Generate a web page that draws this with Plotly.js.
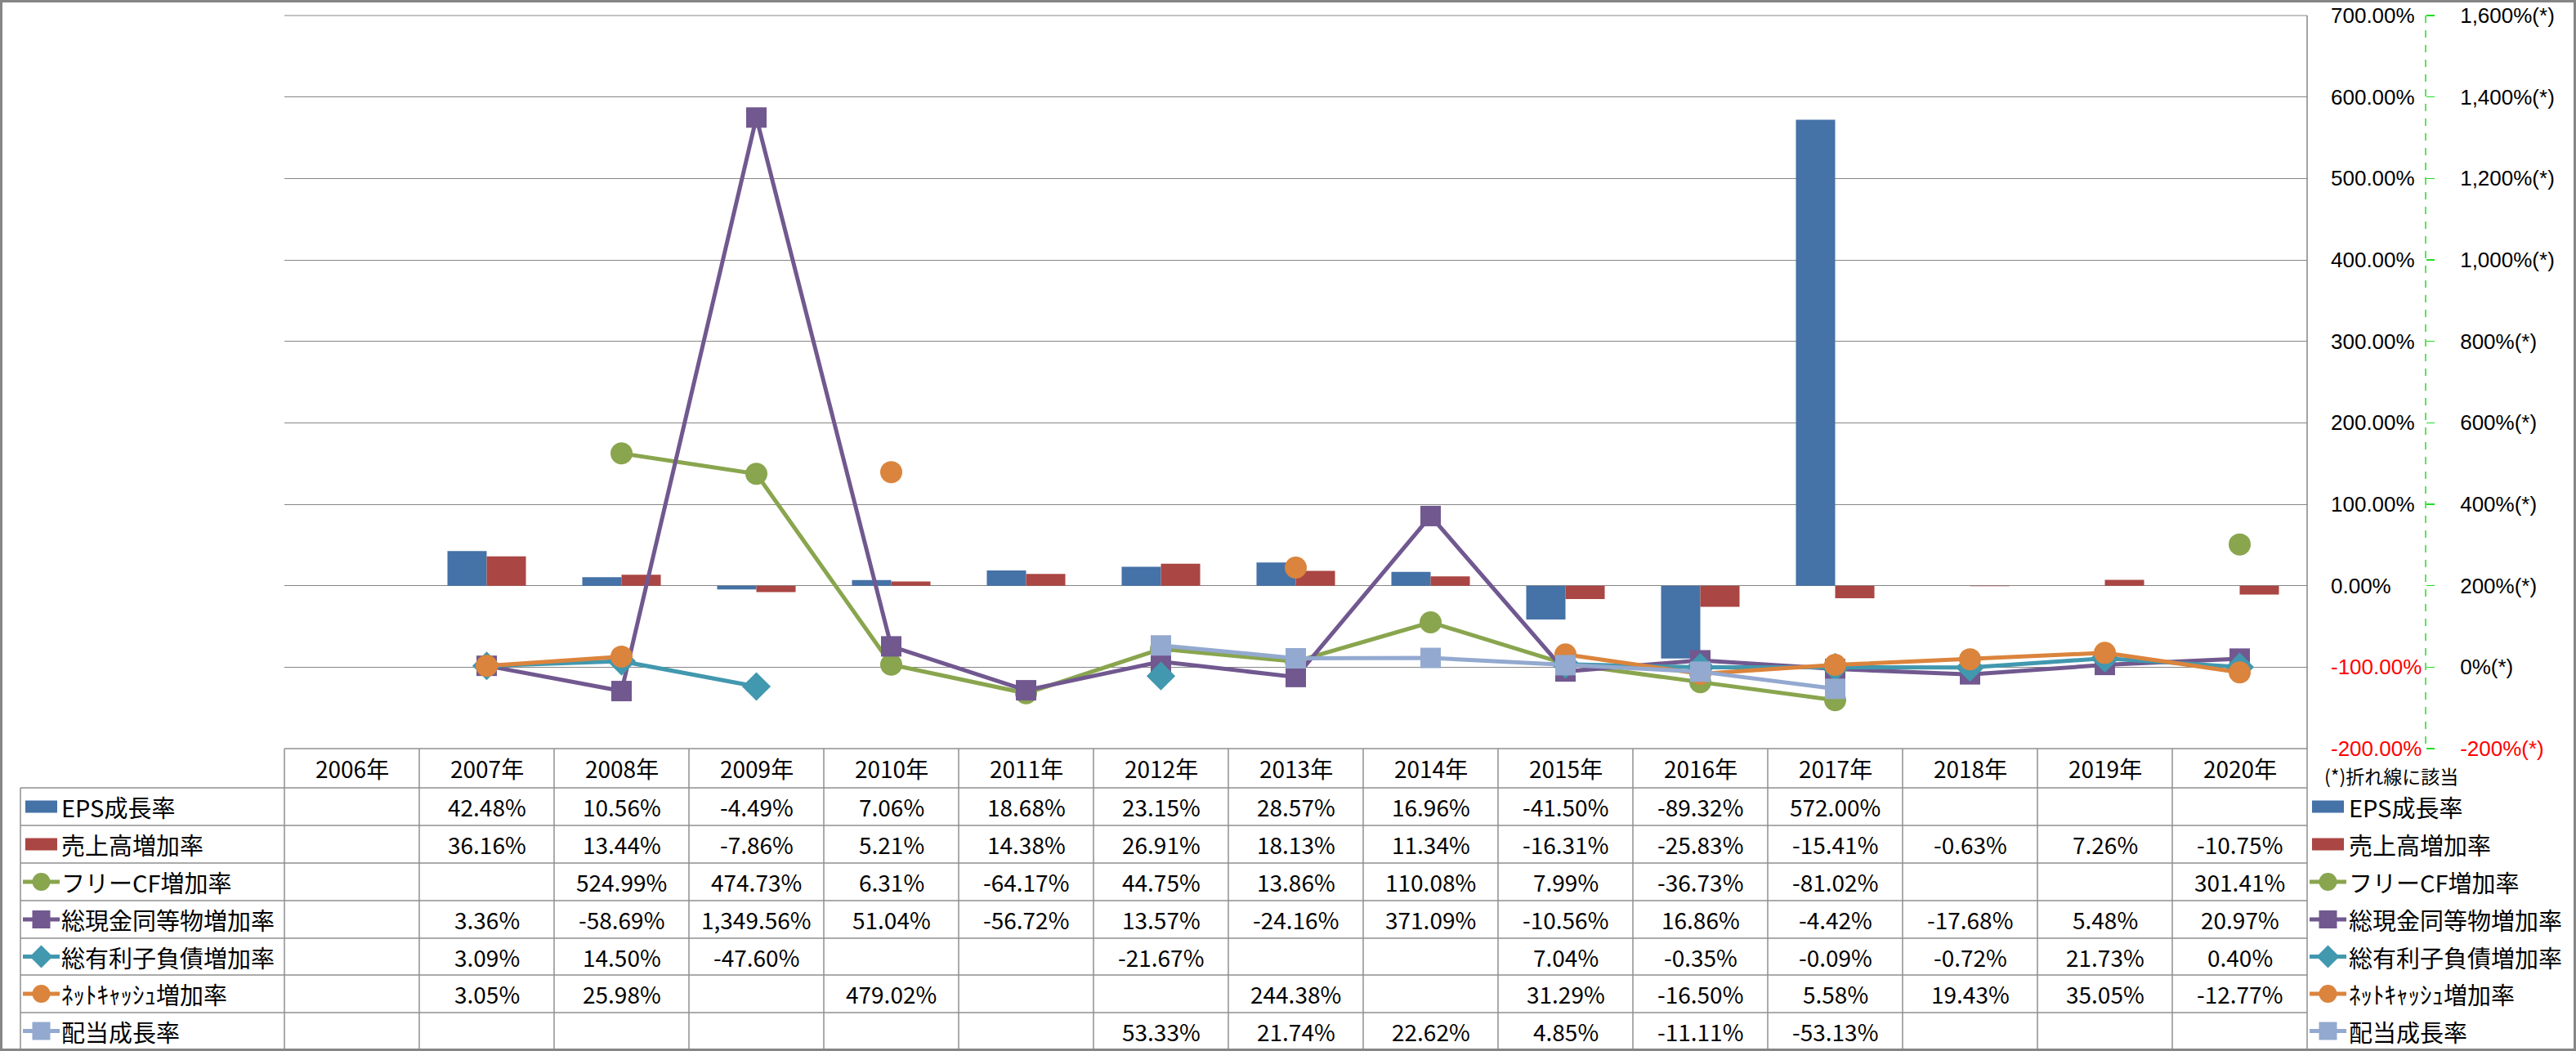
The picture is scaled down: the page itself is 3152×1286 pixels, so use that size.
<!DOCTYPE html>
<html><head><meta charset="utf-8">
<script src="https://cdn.plot.ly/plotly-3.0.1.min.js"></script>
<style>html,body{margin:0;padding:0;background:#fff}</style>
</head><body><div id="chart" style="width:3152px;height:1286px"></div>
<script>
// ---------- data ----------
const years = ['2006年','2007年','2008年','2009年','2010年','2011年','2012年','2013年','2014年','2015年','2016年','2017年','2018年','2019年','2020年'];
const epsGrowth      = [null, 42.48, 10.56, -4.49, 7.06, 18.68, 23.15, 28.57, 16.96, -41.50, -89.32, 572.00, null, null, null];
const salesGrowth    = [null, 36.16, 13.44, -7.86, 5.21, 14.38, 26.91, 18.13, 11.34, -16.31, -25.83, -15.41, -0.63, 7.26, -10.75];
const freeCFGrowth   = [null, null, 524.99, 474.73, 6.31, -64.17, 44.75, 13.86, 110.08, 7.99, -36.73, -81.02, null, null, 301.41];
const cashGrowth     = [null, 3.36, -58.69, 1349.56, 51.04, -56.72, 13.57, -24.16, 371.09, -10.56, 16.86, -4.42, -17.68, 5.48, 20.97];
const debtGrowth     = [null, 3.09, 14.50, -47.60, null, null, -21.67, null, null, 7.04, -0.35, -0.09, -0.72, 21.73, 0.40];
const netCashGrowth  = [null, 3.05, 25.98, null, 479.02, null, null, 244.38, null, 31.29, -16.50, 5.58, 19.43, 35.05, -12.77];
const dividendGrowth = [null, null, null, null, null, null, 53.33, 21.74, 22.62, 4.85, -11.11, -53.13, null, null, null];

const seriesNames = ['EPS成長率','売上高増加率','フリーCF増加率','総現金同等物増加率','総有利子負債増加率','ﾈｯﾄｷｬｯｼｭ増加率','配当成長率'];

const y1TickVals = [-200, -100, 0, 100, 200, 300, 400, 500, 600, 700];
const y1TickText = ['-200.00%','-100.00%','0.00%','100.00%','200.00%','300.00%','400.00%','500.00%','600.00%','700.00%'];
const y2TickVals = [-200, 0, 200, 400, 600, 800, 1000, 1200, 1400, 1600];
const y2TickText = ['-200%(*)','0%(*)','200%(*)','400%(*)','600%(*)','800%(*)','1,000%(*)','1,200%(*)','1,400%(*)','1,600%(*)'];
const noteText = '(*)折れ線に該当';

// ---------- styling ----------
const W = 3152, H = 1286;
const X = p => p / W;
const Y = p => 1 - p / H;
const FONT = 'Noto Sans CJK JP, Noto Sans, sans-serif';
const TICK_FONT = 'Liberation Sans, Arial, sans-serif';
const PLOT_L = 348, PLOT_R = 2823, PLOT_T = 19, PLOT_B = 916;
const ROW_LINES = [916, 964, 1010, 1056, 1102, 1148, 1193, 1239, 1284];
const LABEL_L = 25;
const GRID = '#868686', TABLE_LINE = '#8F8F8F';
const CELL_SIZE = 28, LABEL_SIZE = 29;

const styles = [
  {kind:'bar', color:'#4572A7'},
  {kind:'bar', color:'#AA4643'},
  {kind:'line', color:'#89A54E', symbol:'circle', size:27},
  {kind:'line', color:'#71588F', symbol:'square', size:25},
  {kind:'line', color:'#4198AF', symbol:'diamond', size:27},
  {kind:'line', color:'#DB843D', symbol:'circle', size:27},
  {kind:'line', color:'#93A9CF', symbol:'square', size:25}
];
const seriesData = [epsGrowth, salesGrowth, freeCFGrowth, cashGrowth, debtGrowth, netCashGrowth, dividendGrowth];

// ---------- traces ----------
const traces = seriesData.map((vals, i) => {
  const s = styles[i];
  if (s.kind === 'bar') {
    return {type:'bar', name:seriesNames[i], x:years, y:vals, xaxis:'x', yaxis:'y',
            marker:{color:s.color, line:{width:0}}, hoverinfo:'skip'};
  }
  return {type:'scatter', mode:'lines+markers', name:seriesNames[i], x:years, y:vals,
          xaxis:'x', yaxis:'y2', connectgaps:false, cliponaxis:false,
          line:{color:s.color, width:5},
          marker:{symbol:s.symbol, size:s.size, color:s.color, line:{width:0}},
          hoverinfo:'skip'};
});

// ---------- tick text (negatives in red) ----------
const red = t => t.startsWith('-') ? '<span style="color:#FF0000">' + t + '</span>' : t;

// ---------- shapes ----------
const shapes = [];
const hline = (y, x0, x1, color, w) => shapes.push({type:'line', xref:'paper', yref:'paper', x0:X(x0), x1:X(x1), y0:Y(y), y1:Y(y), line:{color:color, width:w}});
const vline = (x, y0, y1, color, w, dash) => shapes.push({type:'line', xref:'paper', yref:'paper', x0:X(x), x1:X(x), y0:Y(y0), y1:Y(y1), line:{color:color, width:w, dash:dash || 'solid'}});

hline(PLOT_T, PLOT_L, PLOT_R, GRID, 1);
hline(ROW_LINES[0], PLOT_L, PLOT_R, TABLE_LINE, 1.5);
for (let k = 1; k < ROW_LINES.length; k++) hline(ROW_LINES[k], LABEL_L, PLOT_R, TABLE_LINE, 1.5);
vline(LABEL_L, ROW_LINES[1], ROW_LINES[ROW_LINES.length - 1], TABLE_LINE, 1.5);
const colW = (PLOT_R - PLOT_L) / years.length;
for (let c = 0; c <= years.length; c++) vline(PLOT_L + c * colW, ROW_LINES[0], ROW_LINES[ROW_LINES.length - 1], TABLE_LINE, 1.5);
vline(PLOT_R, PLOT_T, PLOT_B, GRID, 1.5);
vline(2968, PLOT_T, PLOT_B, '#22DD22', 1.5, 'dash');
shapes.push({type:'rect', xref:'paper', yref:'paper', x0:X(1.5), x1:X(W - 1.5), y0:Y(1.5), y1:Y(H - 1.5), line:{color:'#868686', width:3}, fillcolor:'rgba(0,0,0,0)'});

function legendKey(i, xl, yc) {
  const s = styles[i];
  if (s.kind === 'bar') {
    shapes.push({type:'rect', xref:'paper', yref:'paper', x0:X(xl + 3), x1:X(xl + 42), y0:Y(yc - 7.5), y1:Y(yc + 7.5), line:{width:0}, fillcolor:s.color});
    return;
  }
  shapes.push({type:'line', xref:'paper', yref:'paper', x0:X(xl), x1:X(xl + 45), y0:Y(yc), y1:Y(yc), line:{color:s.color, width:5}});
  const cx = xl + 22.5, r = 11;
  if (s.symbol === 'circle') {
    shapes.push({type:'circle', xref:'paper', yref:'paper', x0:X(cx - r), x1:X(cx + r), y0:Y(yc - r), y1:Y(yc + r), line:{width:0}, fillcolor:s.color});
  } else if (s.symbol === 'square') {
    shapes.push({type:'rect', xref:'paper', yref:'paper', x0:X(cx - r), x1:X(cx + r), y0:Y(yc - r), y1:Y(yc + r), line:{width:0}, fillcolor:s.color});
  } else {
    const d = 14;
    shapes.push({type:'path', xref:'paper', yref:'paper',
      path:'M' + X(cx - d) + ',' + Y(yc) + ' L' + X(cx) + ',' + Y(yc - d) + ' L' + X(cx + d) + ',' + Y(yc) + ' L' + X(cx) + ',' + Y(yc + d) + ' Z',
      line:{width:0}, fillcolor:s.color});
  }
}

// ---------- annotations ----------
const annotations = [];
const fmt = v => v.toLocaleString('en-US', {minimumFractionDigits:2, maximumFractionDigits:2}) + '%';
const rowCenter = k => (ROW_LINES[k] + ROW_LINES[k + 1]) / 2;

years.forEach(yr => annotations.push({xref:'x', yref:'paper', x:yr, y:Y(rowCenter(0)), text:yr, showarrow:false, xanchor:'center', yanchor:'middle', font:{family:FONT, size:CELL_SIZE, color:'#000'}}));
seriesData.forEach((vals, i) => {
  const yc = rowCenter(i + 1);
  vals.forEach((v, c) => {
    if (v === null) return;
    annotations.push({xref:'x', yref:'paper', x:years[c], y:Y(yc), text:fmt(v), showarrow:false, xanchor:'center', yanchor:'middle', font:{family:FONT, size:CELL_SIZE, color:'#000'}});
  });
  legendKey(i, 28, yc);
  annotations.push({xref:'paper', yref:'paper', x:X(73), y:Y(yc), text:seriesNames[i], showarrow:false, xanchor:'left', yanchor:'middle', font:{family:FONT, size:LABEL_SIZE, color:'#000'}});
  legendKey(i, 2826, yc);
  annotations.push({xref:'paper', yref:'paper', x:X(2872), y:Y(yc), text:seriesNames[i], showarrow:false, xanchor:'left', yanchor:'middle', font:{family:FONT, size:LABEL_SIZE, color:'#000'}});
});
annotations.push({xref:'paper', yref:'paper', x:X(2842), y:Y(949), text:noteText, showarrow:false, xanchor:'left', yanchor:'middle', font:{family:FONT, size:23, color:'#000'}});

// ---------- layout ----------
const layout = {
  width:W, height:H, margin:{l:0, r:0, t:0, b:0, pad:0},
  paper_bgcolor:'#FFFFFF', plot_bgcolor:'rgba(0,0,0,0)',
  showlegend:false, barmode:'group', bargap:0.418, bargroupgap:0,
  font:{family:FONT, size:26, color:'#000'},
  xaxis:{domain:[X(PLOT_L), X(PLOT_R)], type:'category', range:[-0.5, years.length - 0.5],
         showticklabels:false, ticks:'', showgrid:false, zeroline:false, showline:false, fixedrange:true},
  yaxis:{domain:[Y(PLOT_B), Y(PLOT_T)], range:[-200, 700.01], anchor:'x', side:'right',
         tickmode:'array', tickvals:y1TickVals, ticktext:y1TickText.map(red),
         showgrid:true, gridcolor:GRID, gridwidth:1, zeroline:false, showline:false,
         ticks:'', ticklabelstandoff:28, ticklabeloverflow:'allow',
         tickfont:{family:TICK_FONT, size:26, color:'#000'}, fixedrange:true},
  yaxis2:{overlaying:'y', range:[-200, 1600.02], anchor:'free', position:X(2968), side:'right',
          tickmode:'array', tickvals:y2TickVals, ticktext:y2TickText.map(red),
          showgrid:false, zeroline:false, showline:false,
          ticks:'outside', ticklen:10, tickwidth:1.5, tickcolor:'#22DD22', ticklabelstandoff:26, ticklabeloverflow:'allow',
          tickfont:{family:TICK_FONT, size:26, color:'#000'}, fixedrange:true},
  shapes:shapes, annotations:annotations
};

Plotly.newPlot('chart', traces, layout, {staticPlot:true, displayModeBar:false});
</script>
</body></html>
